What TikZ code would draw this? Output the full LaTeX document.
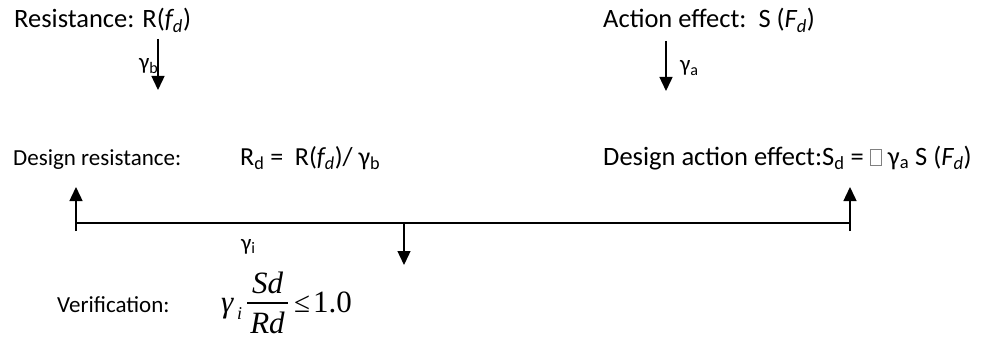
\documentclass[tikz,border=0pt]{standalone}
\usepackage{fontspec}
\setmainfont{Carlito}
\newfontfamily\tnr{Liberation Serif}
\usetikzlibrary{arrows.meta}
\newcommand{\missingbox}{\textcolor{gray}{\fboxsep=0pt\fboxrule=0.6pt\fbox{\rule{0pt}{15pt}\hspace{11pt}}}}
\tikzset{
  txt/.style={anchor=base west, inner sep=0pt, font=\fontsize{23}{27}\selectfont},
  big/.style={txt, font=\fontsize{26.5}{30}\selectfont},
  eq/.style={anchor=base west, inner sep=0pt, font=\fontsize{31}{35}\selectfont\tnr\itshape},
  eqc/.style={anchor=base, inner sep=0pt, font=\fontsize{31}{35}\selectfont\tnr\itshape},
  conn/.style={line width=1.4pt},
  arr/.style={conn, -{Triangle[length=14pt,width=13pt]}}
}
\begin{document}
\begin{tikzpicture}[x=1pt,y=-1pt]
\useasboundingbox (0,0) rectangle (981,339);
% top texts
\node[big] (res) at (14,28) {Resistance: R(\textit{f\textsubscript{d}})};
\node[big] (act) at (603,28) {Action effect:\ \ S (\textit{F\textsubscript{d}})};
% down arrows
\coordinate (a1s) at (158,39);
\coordinate (a1e) at (158,90);
\draw[arr] (a1s) -- (a1e);
\node[txt] (gb) at (139,70) {γ\textsubscript{b}};
\coordinate (a2s) at (666,41);
\coordinate (a2e) at (666,91);
\draw[arr] (a2s) -- (a2e);
\node[txt] (ga) at (680,72) {γ\textsubscript{a}};
% design texts
\node[txt] (dres) at (13,165) {Design resistance:};
\node[txt, font=\fontsize{26}{30}\selectfont] (rd) at (240,165) {R\textsubscript{d} =\ \ R(\textit{f\textsubscript{d}})/ γ\textsubscript{b}};
\node[big] (dact) at (603,165) {Design action effect:S\textsubscript{d} = \missingbox\ γ\textsubscript{a} S (\textit{F\textsubscript{d}})};
% bracket
\coordinate (lb) at (76,231);
\coordinate (lt) at (76,187);
\coordinate (lm) at (76,223);
\coordinate (rb) at (850,231);
\coordinate (rt) at (850,187);
\coordinate (rm) at (850,223);
\coordinate (dm) at (404,223);
\coordinate (de) at (404,265);
\draw[arr] (lb) -- (lt);
\draw[arr] (rb) -- (rt);
\draw[conn] (lm) -- (rm);
\draw[arr] (dm) -- (de);
\node[txt] (gi) at (241,250) {γ\textsubscript{i}};
% verification
\node[txt] (ver) at (57,312) {Verification:};
\node[eq] (gam) at (221,312) {γ};
\node[eq, font=\fontsize{18}{20}\selectfont\tnr\itshape] (isub) at (237,319) {i};
\node[eqc] (num) at (267.5,293) {Sd};
\node[eqc] (den) at (267.5,333) {Rd};
\coordinate (fl) at (247,303);
\coordinate (fr) at (288,303);
\draw[line width=1.2pt] (fl) -- (fr);
\node[eq, font=\fontsize{29}{33}\selectfont\tnr] (le) at (294,312) {≤};
\node[eq, font=\fontsize{31}{35}\selectfont\tnr] (one) at (313,312) {1.0};
\end{tikzpicture}
\end{document}
